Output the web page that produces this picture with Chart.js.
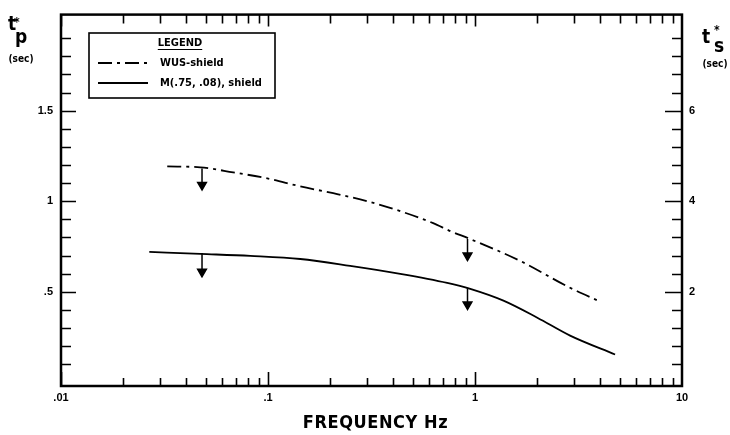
<!DOCTYPE html>
<html>
<head>
<meta charset="utf-8">
<script src="https://cdn.jsdelivr.net/npm/chart.js@4"></script>
<style>
  html, body { margin: 0; padding: 0; background: #fff; }
  #wrap { width: 730px; height: 435px; }
</style>
</head>
<body>
<div id="wrap"><canvas id="chart" width="730" height="435"></canvas></div>
<script>
// t*p (sec), frequency in Hz
const freqWus = [0.0326, 0.0471, 0.0679, 0.0992, 0.1432, 0.2066, 0.3013, 0.4355, 0.628, 0.760, 0.949, 1.656, 2.88, 4.03];
const tpWus   = [1.192, 1.187, 1.159, 1.126, 1.082, 1.044, 1.000, 0.945, 0.879, 0.835, 0.791, 0.670, 0.522, 0.445];

const freqShield = [0.0267, 0.0471, 0.0821, 0.1432, 0.2495, 0.4355, 0.734, 0.949, 1.372, 2.0, 2.88, 4.75];
const tpShield   = [0.720, 0.709, 0.698, 0.681, 0.643, 0.599, 0.549, 0.516, 0.451, 0.357, 0.258, 0.154];

// down arrows (upper-bound markers)
const arrowFreq = [0.048, 0.048, 0.92, 0.92];
const arrowFrom = [1.181, 0.714, 0.791, 0.522];
const arrowHead = [1.09, 0.61, 0.70, 0.43];

const xTickValues = [0.01, 0.1, 1, 10];
const xTickLabels = ['.01', '.1', '1', '10'];
const yTickValues = [0.5, 1, 1.5];
const yTickLabels = ['.5', '1', '1.5'];
const y2TickValues = [2, 4, 6];
const y2TickLabels = ['2', '4', '6'];

const legendLabels = ['WUS-shield', 'M(.75, .08), shield'];

const FONT = "'Liberation Sans', 'DejaVu Sans', sans-serif";
const TITLE_FONT = "'DejaVu Sans', sans-serif";

const toPoints = (xs, ys) => xs.map((x, i) => ({ x, y: ys[i] }));

const arrowSets = arrowFreq.map((f, i) => ({
    data: [{ x: f, y: arrowFrom[i] }, { x: f, y: arrowHead[i] }],
    borderColor: '#000',
    borderWidth: 1.5,
    pointRadius: [0, 5],
    pointStyle: 'triangle',
    rotation: 180,
    pointBackgroundColor: '#000',
    pointBorderColor: '#000',
    yAxisID: 'y',
}));

const framePlugin = {
    id: 'frame',
    afterDraw(chart) {
        const { ctx, chartArea: a, scales } = chart;
        const x = scales.x, y = scales.y, y2 = scales.y2;
        ctx.save();
        ctx.strokeStyle = '#000';
        ctx.fillStyle = '#000';

        // frame
        ctx.lineWidth = 2.5;
        ctx.strokeRect(a.left, a.top, a.right - a.left, a.bottom - a.top);

        // inward ticks
        ctx.lineWidth = 1.6;
        ctx.beginPath();
        for (let d = 0.01; d < 10; d *= 10) {
            for (let m = 1; m <= 9; m++) {
                const v = m * d;
                const px = Math.round(x.getPixelForValue(v)) + 0.5;
                const len = m === 1 ? 14 : 8;
                ctx.moveTo(px, a.bottom); ctx.lineTo(px, a.bottom - len);
                ctx.moveTo(px, a.top); ctx.lineTo(px, a.top + (m === 1 ? 12 : 9));
            }
        }
        for (let k = 1; k <= 19; k++) {
            const py = Math.round(y.getPixelForValue(k / 10)) + 0.5;
            const len = k % 5 === 0 ? 15 : 10;
            ctx.moveTo(a.left, py); ctx.lineTo(a.left + len, py);
        }
        for (let k = 1; k <= 19; k++) {
            const py = Math.round(y2.getPixelForValue(k * 0.4)) + 0.5;
            const len = k % 5 === 0 ? 17 : 10;
            ctx.moveTo(a.right, py); ctx.lineTo(a.right - len, py);
        }
        ctx.stroke();

        // legend box
        ctx.lineWidth = 1.6;
        ctx.strokeRect(89, 33, 186, 65);
        ctx.fontStretch = 'condensed';
        ctx.font = 'bold 11px ' + TITLE_FONT;
        ctx.fontStretch = 'condensed';
        ctx.textBaseline = 'middle';
        ctx.textAlign = 'center';
        ctx.fillText('LEGEND', 180, 43);
        const lw = ctx.measureText('LEGEND').width;
        ctx.lineWidth = 1.2;
        ctx.beginPath();
        ctx.moveTo(180 - lw / 2, 49.5); ctx.lineTo(180 + lw / 2, 49.5);
        ctx.stroke();

        ctx.lineWidth = 1.8;
        ctx.setLineDash([14, 5, 3, 5]);
        ctx.beginPath(); ctx.moveTo(98, 63); ctx.lineTo(148, 63); ctx.stroke();
        ctx.setLineDash([]);
        ctx.beginPath(); ctx.moveTo(98, 83); ctx.lineTo(148, 83); ctx.stroke();
        ctx.textAlign = 'left';
        ctx.fillText(legendLabels[0], 160, 63);
        ctx.fillText(legendLabels[1], 160, 83);

        // x axis title
        ctx.textAlign = 'center';
        ctx.font = 'bold 18px ' + TITLE_FONT;
        ctx.fontStretch = 'condensed';
        const txt = 'FREQUENCY Hz';
        const w = ctx.measureText(txt).width;
        ctx.letterSpacing = Math.max(0, (145 - w) / (txt.length - 1)).toFixed(2) + 'px';
        ctx.fillText(txt, (a.left + a.right) / 2 + 4, 423);
        ctx.letterSpacing = '0px';

        // y axis titles
        ctx.textAlign = 'left';
        ctx.font = 'bold 19px ' + TITLE_FONT;
        ctx.fontStretch = 'condensed';
        ctx.fillText('t', 8, 25);
        ctx.fillText('p', 15, 38);
        ctx.fillText('t', 702, 38);
        ctx.fillText('s', 714, 47);
        ctx.font = 'bold 12px ' + TITLE_FONT;
        ctx.fontStretch = 'condensed';
        ctx.fillText('*', 14, 23);
        ctx.fillText('*', 714, 31);
        ctx.font = 'bold 10px ' + TITLE_FONT;
        ctx.fontStretch = 'condensed';
        ctx.textAlign = 'center';
        ctx.fillText('(sec)', 21, 59);
        ctx.fillText('(sec)', 715, 64);
        ctx.restore();
    }
};

new Chart(document.getElementById('chart').getContext('2d'), {
    type: 'line',
    data: {
        datasets: [
            {
                label: legendLabels[0],
                data: toPoints(freqWus, tpWus),
                borderColor: '#000',
                borderWidth: 1.8,
                borderDash: [14, 5, 3, 5],
                pointRadius: 0,
                cubicInterpolationMode: 'monotone',
                yAxisID: 'y',
            },
            {
                label: legendLabels[1],
                data: toPoints(freqShield, tpShield),
                borderColor: '#000',
                borderWidth: 1.8,
                pointRadius: 0,
                cubicInterpolationMode: 'monotone',
                yAxisID: 'y',
            },
            ...arrowSets,
        ],
    },
    options: {
        responsive: false,
        animation: false,
        layout: { padding: { top: 13, left: 0, right: 0, bottom: 0 } },
        plugins: {
            legend: { display: false },
            tooltip: { enabled: false },
        },
        scales: {
            x: {
                type: 'logarithmic',
                min: 0.01,
                max: 10,
                grid: { display: false, drawTicks: false },
                border: { display: false },
                afterBuildTicks: s => { s.ticks = xTickValues.map(value => ({ value })); },
                afterFit: s => { s.height = 49; },
                ticks: {
                    autoSkip: false,
                    maxRotation: 0,
                    padding: 5,
                    color: '#000',
                    font: { family: FONT, size: 11, weight: 'bold' },
                    callback: v => xTickLabels[xTickValues.indexOf(v)] ?? '',
                },
            },
            y: {
                position: 'left',
                min: -0.02,
                max: 2.03,
                grid: { display: false, drawTicks: false },
                border: { display: false },
                afterBuildTicks: s => { s.ticks = yTickValues.map(value => ({ value })); },
                afterFit: s => { s.width = 61; },
                ticks: {
                    padding: 8,
                    color: '#000',
                    font: { family: FONT, size: 11, weight: 'bold' },
                    callback: v => yTickLabels[yTickValues.indexOf(v)] ?? '',
                },
            },
            y2: {
                position: 'right',
                min: -0.08,
                max: 8.12,
                grid: { display: false, drawTicks: false },
                border: { display: false },
                afterBuildTicks: s => { s.ticks = y2TickValues.map(value => ({ value })); },
                afterFit: s => { s.width = 48; },
                ticks: {
                    padding: 7,
                    color: '#000',
                    font: { family: FONT, size: 11, weight: 'bold' },
                    callback: v => y2TickLabels[y2TickValues.indexOf(v)] ?? '',
                },
            },
        },
    },
    plugins: [framePlugin],
});
</script>
</body>
</html>
